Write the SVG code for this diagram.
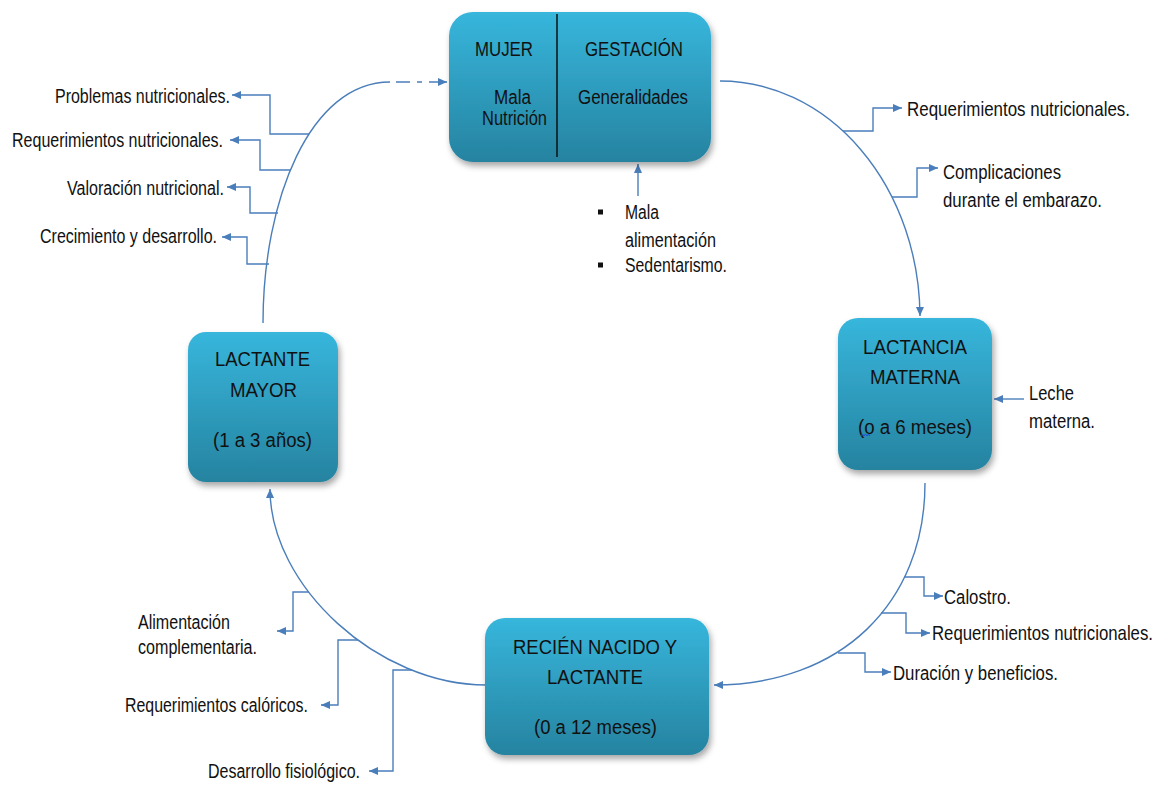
<svg xmlns="http://www.w3.org/2000/svg" width="1166" height="785" viewBox="0 0 1166 785">
<defs>
<linearGradient id="g" x1="0" y1="0" x2="0" y2="1">
<stop offset="0" stop-color="#37b6dc"/>
<stop offset="1" stop-color="#2683a0"/>
</linearGradient>
<filter id="sh" x="-10%" y="-10%" width="125%" height="130%">
<feDropShadow dx="2" dy="4" stdDeviation="3" flood-color="#000" flood-opacity="0.35"/>
</filter>
<marker id="ah" markerUnits="userSpaceOnUse" markerWidth="10" markerHeight="9" refX="9" refY="4" orient="auto">
<path d="M0,0 L9,4 L0,8 z" fill="#4a7ebb"/>
</marker>
<style>
.box{fill:url(#g);filter:url(#sh)}
.t{font-family:'Liberation Sans Narrow','Liberation Sans',Arial,sans-serif;font-size:20px;fill:#111}
.s{font-family:'Liberation Sans Narrow','Liberation Sans',Arial,sans-serif;font-size:19.5px;fill:#111}
.c{text-anchor:middle}
.ln{fill:none;stroke:#4a7ebb;stroke-width:1.4}
</style>
</defs>
<rect width="1166" height="785" fill="#fff"/>

<g id="connectors">
<path class="ln" d="M720,81 A200,237 0 0 1 920,316" marker-end="url(#ah)"/>
<path class="ln" d="M925,483 C925,604 840,685 714,685" marker-end="url(#ah)"/>
<path class="ln" d="M486,685 C378,685 270,586 270,489" marker-end="url(#ah)"/>
<path class="ln" d="M263,323 C263,200 310,82 390,82"/>
<path class="ln" d="M396,82 H447" stroke-dasharray="14 7 5 7 18 0" marker-end="url(#ah)"/>
<path class="ln" d="M638,196 V164" marker-end="url(#ah)"/>
<path class="ln" d="M1024,399 H994" marker-end="url(#ah)"/>
<path class="ln" d="M309,134 H270 V95 H232" marker-end="url(#ah)"/>
<path class="ln" d="M291,170 H260 V140 H230" marker-end="url(#ah)"/>
<path class="ln" d="M278,213 H250 V187 H227" marker-end="url(#ah)"/>
<path class="ln" d="M269,264 H247 V237 H222" marker-end="url(#ah)"/>
<path class="ln" d="M843,131 H873 V108 H902" marker-end="url(#ah)"/>
<path class="ln" d="M892,197 H917 V168 H938" marker-end="url(#ah)"/>
<path class="ln" d="M904,577 H924 V596 H943" marker-end="url(#ah)"/>
<path class="ln" d="M881,613 H906 V633 H930" marker-end="url(#ah)"/>
<path class="ln" d="M838,653 H865 V672 H891" marker-end="url(#ah)"/>
<path class="ln" d="M309,592 H293 V631 H277" marker-end="url(#ah)"/>
<path class="ln" d="M358,640 H338 V705 H321" marker-end="url(#ah)"/>
<path class="ln" d="M412,670 H393 V771 H369" marker-end="url(#ah)"/>
</g>

<g id="node-mujer">
<rect class="box" x="449" y="12" width="262" height="150" rx="24"/>
<line x1="557" y1="14" x2="557" y2="157" stroke="#111" stroke-width="1.5"/>
<text class="t c" x="504" y="56" textLength="58" lengthAdjust="spacingAndGlyphs">MUJER</text>
<text class="t c" x="634" y="56" textLength="98" lengthAdjust="spacingAndGlyphs">GESTACIÓN</text>
<text class="t c" x="512.5" y="104" textLength="37" lengthAdjust="spacingAndGlyphs">Mala</text>
<text class="t c" x="514.5" y="125" textLength="65" lengthAdjust="spacingAndGlyphs">Nutrición</text>
<text class="t c" x="633" y="104" textLength="110" lengthAdjust="spacingAndGlyphs">Generalidades</text>
</g>

<g id="node-lactancia">
<rect class="box" x="838" y="318" width="154" height="152" rx="20"/>
<text class="t c" x="915" y="354" textLength="104" lengthAdjust="spacingAndGlyphs">LACTANCIA</text>
<text class="t c" x="915" y="384" textLength="90" lengthAdjust="spacingAndGlyphs">MATERNA</text>
<text class="t c" x="915" y="434" textLength="114" lengthAdjust="spacingAndGlyphs">(o a 6 meses)</text>
<path d="M861,436 l1.5,-2 l1.5,2 l1.5,-2 l1.5,2 l1.5,-2 l1.5,2" fill="none" stroke="#2244dd" stroke-width="0.9"/>
</g>

<g id="node-recien">
<rect class="box" x="485" y="618" width="224" height="137" rx="20"/>
<text class="t c" x="595" y="654" textLength="164" lengthAdjust="spacingAndGlyphs">RECIÉN NACIDO Y</text>
<text class="t c" x="595" y="684" textLength="96" lengthAdjust="spacingAndGlyphs">LACTANTE</text>
<text class="t c" x="595.5" y="734" textLength="123" lengthAdjust="spacingAndGlyphs">(0 a 12 meses)</text>
</g>

<g id="node-lactante-mayor">
<rect class="box" x="188" y="332" width="150" height="150" rx="18"/>
<text class="t c" x="262.5" y="366" textLength="95" lengthAdjust="spacingAndGlyphs">LACTANTE</text>
<text class="t c" x="263.5" y="397" textLength="67" lengthAdjust="spacingAndGlyphs">MAYOR</text>
<text class="t c" x="262.5" y="447" textLength="99" lengthAdjust="spacingAndGlyphs">(1 a 3 años)</text>
</g>

<g id="labels-left">
<text class="s" x="55" y="103" textLength="175" lengthAdjust="spacingAndGlyphs">Problemas nutricionales.</text>
<text class="s" x="12" y="147" textLength="211" lengthAdjust="spacingAndGlyphs">Requerimientos nutricionales.</text>
<text class="s" x="67" y="195" textLength="157" lengthAdjust="spacingAndGlyphs">Valoración nutricional.</text>
<text class="s" x="40" y="243" textLength="177" lengthAdjust="spacingAndGlyphs">Crecimiento y desarrollo.</text>
</g>

<g id="labels-causes">
<rect x="598" y="209.5" width="5" height="5" fill="#111"/>
<rect x="598" y="262.5" width="5" height="5" fill="#111"/>
<text class="t" x="625" y="219" textLength="34" lengthAdjust="spacingAndGlyphs">Mala</text>
<text class="t" x="625" y="247" textLength="91" lengthAdjust="spacingAndGlyphs">alimentación</text>
<text class="t" x="625" y="272" textLength="102" lengthAdjust="spacingAndGlyphs">Sedentarismo.</text>
</g>

<g id="labels-gestacion">
<text class="t" transform="translate(907,116) scale(0.82,1)" x="0" y="0" textLength="272" lengthAdjust="spacingAndGlyphs">Requerimientos nutricionales.</text>
<text class="t" x="943" y="179" textLength="118" lengthAdjust="spacingAndGlyphs">Complicaciones</text>
<text class="t" x="943" y="207" textLength="159" lengthAdjust="spacingAndGlyphs">durante el embarazo.</text>
</g>

<g id="labels-lactancia">
<text class="t" x="1029" y="400" textLength="45" lengthAdjust="spacingAndGlyphs">Leche</text>
<text class="t" x="1029" y="428" textLength="66" lengthAdjust="spacingAndGlyphs">materna.</text>
<text class="t" x="944" y="604" textLength="67" lengthAdjust="spacingAndGlyphs">Calostro.</text>
<text class="t" transform="translate(932,640) scale(0.82,1)" x="0" y="0" textLength="269.5" lengthAdjust="spacingAndGlyphs">Requerimientos nutricionales.</text>
<text class="t" x="893" y="680" textLength="165" lengthAdjust="spacingAndGlyphs">Duración y beneficios.</text>
</g>

<g id="labels-recien">
<text class="t" x="138" y="629" textLength="92" lengthAdjust="spacingAndGlyphs">Alimentación</text>
<text class="t" x="138" y="654" textLength="119" lengthAdjust="spacingAndGlyphs">complementaria.</text>
<text class="t" x="125" y="712" textLength="183" lengthAdjust="spacingAndGlyphs">Requerimientos calóricos.</text>
<text class="t" x="208" y="778" textLength="152" lengthAdjust="spacingAndGlyphs">Desarrollo fisiológico.</text>
</g>
</svg>
